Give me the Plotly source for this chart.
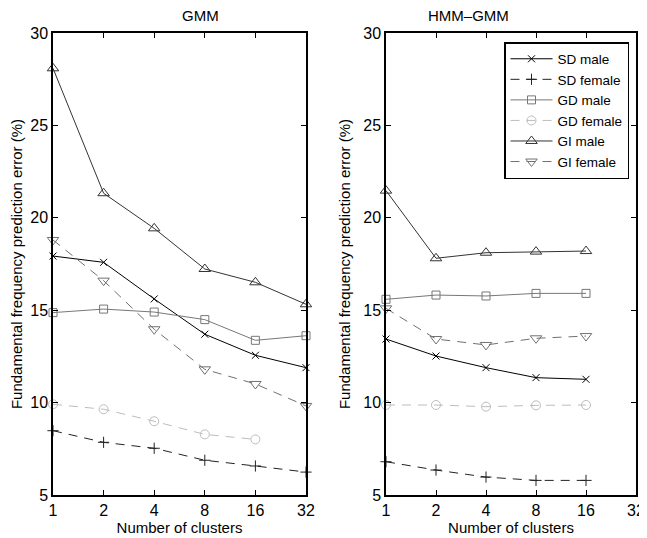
import plotly.graph_objects as go

clusters = [1, 2, 4, 8, 16, 32]
tick_labels = ["1", "2", "4", "8", "16", "32"]

# GMM (left panel)
gmm_sd_male = [17.93, 17.59, 15.61, 13.70, 12.56, 11.89]
gmm_sd_female = [8.48, 7.85, 7.53, 6.88, 6.57, 6.24]
gmm_gd_male = [14.87, 15.06, 14.90, 14.49, 13.37, 13.62]
gmm_gd_female = [9.91, 9.64, 8.99, 8.28, 8.01]
gmm_gi_male = [28.09, 21.33, 19.43, 17.23, 16.51, 15.32]
gmm_gi_female = [18.80, 16.60, 13.97, 11.80, 11.01, 9.82]

# HMM-GMM (right panel)
hmm_sd_male = [13.44, 12.52, 11.89, 11.35, 11.26]
hmm_sd_female = [6.80, 6.35, 5.97, 5.79, 5.79]
hmm_gd_male = [15.59, 15.82, 15.77, 15.91, 15.91]
hmm_gd_female = [9.87, 9.87, 9.78, 9.85, 9.87]
hmm_gi_male = [21.47, 17.81, 18.11, 18.17, 18.20]
hmm_gi_female = [15.10, 13.44, 13.12, 13.48, 13.60]

series_names = ["SD male", "SD female", "GD male", "GD female", "GI male", "GI female"]
styles = [
    dict(color="#000000", dash="solid", symbol="x-thin-open", size=7),
    dict(color="#222222", dash="9px,7px", symbol="cross-thin-open", size=8),
    dict(color="#777777", dash="solid", symbol="square-open", size=8),
    dict(color="#bdbdbd", dash="9px,7px", symbol="circle-open", size=9),
    dict(color="#333333", dash="solid", symbol="triangle-up-open", size=10),
    dict(color="#707070", dash="9px,7px", symbol="triangle-down-open", size=10),
]

left = [gmm_sd_male, gmm_sd_female, gmm_gd_male, gmm_gd_female, gmm_gi_male, gmm_gi_female]
right = [hmm_sd_male, hmm_sd_female, hmm_gd_male, hmm_gd_female, hmm_gi_male, hmm_gi_female]

# The page body adds an 8px offset; size the figure so it fits the window.
OFF = 8
W, H = 647 - OFF, 538 - OFF


def px(x):
    return (x - OFF) / W


def py(y):
    return 1 - (y - OFF) / H


fig = go.Figure()
for name, st, ys in zip(series_names, styles, left):
    fig.add_trace(go.Scatter(
        x=clusters[:len(ys)], y=ys, mode="lines+markers", name=name, showlegend=False,
        xaxis="x", yaxis="y", cliponaxis=False,
        line=dict(color=st["color"], dash=st["dash"], width=1),
        marker=dict(symbol=st["symbol"], size=st["size"], color=st["color"],
                    line=dict(color=st["color"], width=1)),
    ))
for name, st, ys in zip(series_names, styles, right):
    fig.add_trace(go.Scatter(
        x=clusters[:len(ys)], y=ys, mode="lines+markers", name=name, showlegend=True,
        xaxis="x2", yaxis="y2", cliponaxis=False,
        line=dict(color=st["color"], dash=st["dash"], width=1),
        marker=dict(symbol=st["symbol"], size=st["size"], color=st["color"],
                    line=dict(color=st["color"], width=1)),
    ))

font = "Liberation Sans, Arial, Helvetica, sans-serif"
xcommon = dict(type="log", range=[0, 1.50515], tickvals=clusters, ticktext=tick_labels,
               ticks="inside", ticklen=5, tickcolor="black", mirror="ticks", showline=True,
               linecolor="black", linewidth=1.5, showgrid=False, zeroline=False,
               automargin=False,
               tickfont=dict(size=16, color="black"),
               title=dict(text="Number of clusters", font=dict(size=15, color="black"), standoff=2))
ycommon = dict(range=[5, 30], tickvals=[5, 10, 15, 20, 25, 30], ticks="inside", ticklen=5,
               tickcolor="black", mirror="ticks", showline=True, linecolor="black", linewidth=1.5,
               showgrid=False, zeroline=False, automargin=False,
               tickfont=dict(size=16, color="black"),
               title=dict(text="Fundamental frequency prediction error (%)",
                          font=dict(size=15, color="black"), standoff=9))

fig.update_layout(
    width=W, height=H,
    margin=dict(l=0, r=0, t=0, b=0, autoexpand=False),
    paper_bgcolor="white", plot_bgcolor="white",
    font=dict(family=font, color="black"),
    xaxis=dict(domain=[px(53), px(306)], anchor="y", **xcommon),
    yaxis=dict(domain=[py(495), py(33)], anchor="x", **ycommon),
    xaxis2=dict(domain=[px(386), px(636)], anchor="y2", **xcommon),
    yaxis2=dict(domain=[py(495), py(33)], anchor="x2", **ycommon),
    legend=dict(x=px(504), y=py(42), xanchor="left", yanchor="top", bgcolor="white",
                bordercolor="black", borderwidth=1.5, font=dict(size=13.5, color="black"),
                tracegroupgap=0, itemwidth=42),
    annotations=[
        dict(text="GMM", x=px(179.5), y=py(16), xref="paper", yref="paper", showarrow=False,
             yanchor="middle", font=dict(size=15, color="black")),
        dict(text="HMM\u2013GMM", x=px(511), y=py(16), xref="paper", yref="paper",
             showarrow=False, yanchor="middle", font=dict(size=15, color="black")),
    ],
)

fig.write_html("out.html")
